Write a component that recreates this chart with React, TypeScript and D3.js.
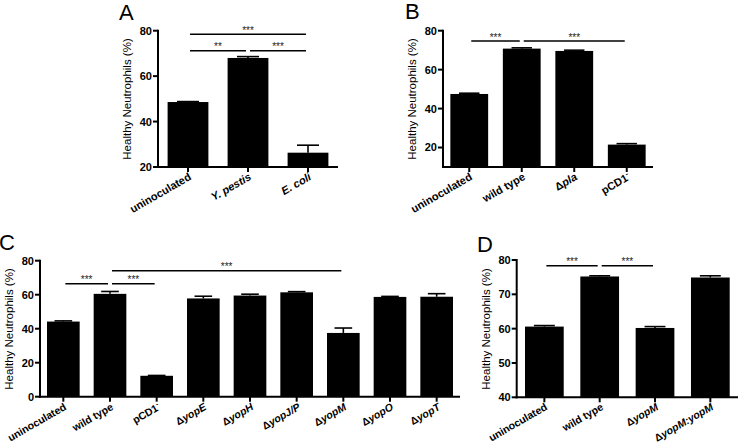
import React from "react";
import * as d3 from "d3";

type Seg = { t: string; i?: boolean; sup?: boolean };

// ---------- DATA ----------
const labelsA: Seg[][] = [
  [{ t: "uninoculated" }],
  [{ t: "Y. pestis", i: true }],
  [{ t: "E. coli", i: true }],
];
const valuesA = [48.6, 68.0, 26.3];
const errorsA = [0.2, 0.6, 3.3];
const ticksA = [20, 40, 60, 80];
const domainA: [number, number] = [20, 80];
const sigA: [number, number, string][] = [
  [0, 2, "***"],
  [0, 1, "**"],
  [1, 2, "***"],
];

const labelsB: Seg[][] = [
  [{ t: "uninoculated" }],
  [{ t: "wild type" }],
  [{ t: "Δ" }, { t: "pla", i: true }],
  [{ t: "pCD1" }, { t: "-", sup: true }],
];
const valuesB = [47.5, 70.8, 69.6, 21.5];
const errorsB = [0.4, 0.4, 0.4, 0.5];
const ticksB = [20, 40, 60, 80];
const domainB: [number, number] = [10, 80];
const sigB: [number, number, string][] = [
  [0, 1, "***"],
  [1, 3, "***"],
];

const labelsC: Seg[][] = [
  [{ t: "uninoculated" }],
  [{ t: "wild type" }],
  [{ t: "pCD1" }, { t: "-", sup: true }],
  [{ t: "Δ" }, { t: "yopE", i: true }],
  [{ t: "Δ" }, { t: "yopH", i: true }],
  [{ t: "Δ" }, { t: "yopJ/P", i: true }],
  [{ t: "Δ" }, { t: "yopM", i: true }],
  [{ t: "Δ" }, { t: "yopO", i: true }],
  [{ t: "Δ" }, { t: "yopT", i: true }],
];
const valuesC = [44.2, 60.5, 12.3, 57.8, 59.5, 61.4, 37.5, 58.7, 58.8];
const errorsC = [0.4, 1.4, 0.2, 1.3, 0.8, 0.4, 2.9, 0.3, 1.8];
const ticksC = [0, 20, 40, 60, 80];
const domainC: [number, number] = [0, 80];
const sigC: [number, number, string][] = [
  [1, 6, "***"],
  [0, 1, "***"],
  [1, 2, "***"],
];

const labelsD: Seg[][] = [
  [{ t: "uninoculated" }],
  [{ t: "wild type" }],
  [{ t: "Δ" }, { t: "yopM", i: true }],
  [{ t: "Δ" }, { t: "yopM:yopM", i: true }],
];
const valuesD = [60.6, 75.2, 60.2, 74.9];
const errorsD = [0.3, 0.2, 0.4, 0.5];
const ticksD = [40, 50, 60, 70, 80];
const domainD: [number, number] = [40, 80];
const sigD: [number, number, string][] = [
  [0, 1, "***"],
  [1, 2, "***"],
];

// ---------- LAYOUT ----------
const FONT = "Liberation Sans";

type Cfg = {
  letter: string;
  letterX: number;
  letterY: number;
  x0: number;
  x1: number;
  yTop: number;
  yBottom: number;
  labels: Seg[][];
  values: number[];
  errors: number[];
  ticks: number[];
  domain: [number, number];
  sig: [number, number, string][];
  sigY: number[];
  paddingInner: number;
  labelSize: number;
};

const panels: Cfg[] = [
  {
    letter: "A", letterX: 119, letterY: 20, x0: 158, x1: 338, yTop: 30.7, yBottom: 167,
    labels: labelsA, values: valuesA, errors: errorsA, ticks: ticksA, domain: domainA,
    sig: sigA, sigY: [34.3, 50.7, 50.7], paddingInner: 0.32, labelSize: 11,
  },
  {
    letter: "B", letterX: 405, letterY: 19, x0: 443, x1: 653, yTop: 30.7, yBottom: 167,
    labels: labelsB, values: valuesB, errors: errorsB, ticks: ticksB, domain: domainB,
    sig: sigB, sigY: [41, 41], paddingInner: 0.28, labelSize: 11,
  },
  {
    letter: "C", letterX: -1, letterY: 250, x0: 40, x1: 460, yTop: 260.7, yBottom: 396.7,
    labels: labelsC, values: valuesC, errors: errorsC, ticks: ticksC, domain: domainC,
    sig: sigC, sigY: [270.7, 283.7, 283.7], paddingInner: 0.3, labelSize: 10.5,
  },
  {
    letter: "D", letterX: 477, letterY: 252, x0: 516.7, x1: 738, yTop: 260, yBottom: 397.3,
    labels: labelsD, values: valuesD, errors: errorsD, ticks: ticksD, domain: domainD,
    sig: sigD, sigY: [265.7, 265.7], paddingInner: 0.3, labelSize: 10.5,
  },
];

function scales(p: Cfg) {
  const x = d3
    .scaleBand<string>()
    .domain(p.values.map((_, i) => String(i)))
    .range([p.x0, p.x1])
    .paddingInner(p.paddingInner)
    .paddingOuter(p.paddingInner / 2);
  const y = d3.scaleLinear().domain(p.domain).range([p.yBottom, p.yTop]);
  const bw = x.bandwidth();
  const cx = (i: number) => (x(String(i)) as number) + bw / 2;
  return { x, y, bw, cx };
}

function Panel({ p }: { p: Cfg }) {
  const { x, y, bw, cx } = scales(p);
  return (
    <g>
      <text x={p.letterX} y={p.letterY} fontFamily={FONT} fontSize={22} fill="#000">
        {p.letter}
      </text>
      {p.values.map((v, i) => (
        <rect key={"b" + i} x={x(String(i))} y={y(v)} width={bw} height={p.yBottom - y(v)} fill="#000" />
      ))}
      {p.values.map((v, i) => {
        const top = y(v + p.errors[i]);
        return (
          <g key={"e" + i} stroke="#000" strokeWidth={1.6}>
            <line x1={cx(i)} x2={cx(i)} y1={y(v)} y2={top} />
            <line x1={cx(i) - bw * 0.27} x2={cx(i) + bw * 0.27} y1={top} y2={top} />
          </g>
        );
      })}
      <line x1={p.x0} x2={p.x0} y1={p.yTop - 1} y2={p.yBottom + 1} stroke="#000" strokeWidth={2} />
      {p.ticks.map((t) => (
        <g key={"yt" + t}>
          <line x1={p.x0 - 5} x2={p.x0} y1={y(t)} y2={y(t)} stroke="#000" strokeWidth={2} />
          <text x={p.x0 - 6} y={y(t)} dy="0.36em" textAnchor="end" fontFamily={FONT} fontWeight="bold" fontSize={11} fill="#000">
            {t}
          </text>
        </g>
      ))}
      <text
        transform={`translate(${Math.round(p.x0 - 27)},${Math.round((p.yTop + p.yBottom) / 2)}) rotate(-90)`}
        textAnchor="middle"
        fontFamily={FONT}
        fontSize={11.5}
        fill="#000"
      >
        Healthy Neutrophils (%)
      </text>
      <line x1={p.x0 - 1} x2={p.x1} y1={p.yBottom} y2={p.yBottom} stroke="#000" strokeWidth={2} />
      {p.labels.map((_, i) => (
        <line key={"xk" + i} x1={cx(i)} x2={cx(i)} y1={p.yBottom} y2={p.yBottom + 5} stroke="#000" strokeWidth={2} />
      ))}
      {p.sig.map(([a, b, s], k) => {
        const x1 = cx(a) + 2;
        const x2 = cx(b) - 2;
        return (
          <g key={"s" + k}>
            <line x1={x1} x2={x2} y1={p.sigY[k]} y2={p.sigY[k]} stroke="#000" strokeWidth={1.6} />
            <text x={(x1 + x2) / 2} y={p.sigY[k] - 0.5} textAnchor="middle" fontFamily={FONT} fontSize={10} fill="#222">
              {s}
            </text>
          </g>
        );
      })}
    </g>
  );
}

export default function App() {
  const xLabels: React.ReactNode[] = [];
  panels.forEach((p, pi) => {
    const { cx } = scales(p);
    p.labels.forEach((lab, i) => {
      const tx = Math.round(cx(i) + 4);
      const ty = Math.round(p.yBottom + 12);
      xLabels.push(
        <text
          key={`xl${pi}-${i}`}
          transform={`translate(${tx},${ty}) rotate(-30)`}
          textAnchor="end"
          fontFamily={FONT}
          fontWeight="bold"
          fontSize={p.labelSize}
          fill="#000"
        >
          {lab.map((s, k) => (
            <tspan
              key={k}
              fontStyle={s.i ? "italic" : "normal"}
              dy={s.sup ? -4 : undefined}
              fontSize={s.sup ? p.labelSize * 0.7 : undefined}
            >
              {s.t}
            </tspan>
          ))}
        </text>
      );
    });
  });
  return (
    <svg width={740} height={445} style={{ position: "absolute", left: 0, top: 0 }}>
      <rect width={740} height={445} fill="#fff" />
      {panels.map((p, i) => (
        <Panel key={i} p={p} />
      ))}
      {xLabels}
    </svg>
  );
}
